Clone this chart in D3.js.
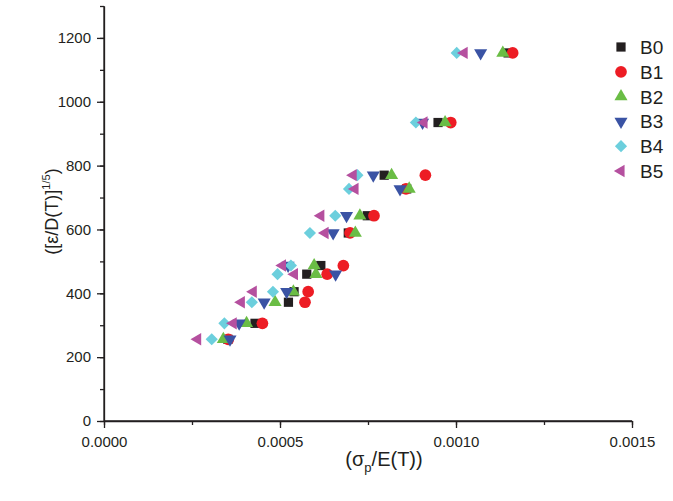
<!DOCTYPE html>
<html>
<head>
<meta charset="utf-8">
<script src="https://cdn.jsdelivr.net/npm/d3@7"></script>
<style>
  body { margin: 0; background: #fff; }
  svg text { font-family: "Liberation Sans", Arial, sans-serif; fill: #231f20; }
  .axis path, .axis line { stroke: #231f20; stroke-width: 1.3; }
</style>
</head>
<body>
<div id="chart"></div>
<script>
// y values shared by every series (one per temperature level)
var yLevels = [1153, 935, 770, 727, 643, 589, 487, 460, 405, 372, 306, 256];

// x values (sigma_p / E(T)) for each series, same order as yLevels
var xB0 = [0.001148, 0.000949, 0.000796, 0.000860, 0.000748, 0.000694, 0.000616, 0.000576, 0.000540, 0.000524, 0.000429, 0.000352];
var xB1 = [0.001161, 0.000985, 0.000913, 0.000858, 0.000767, 0.000699, 0.000680, 0.000634, 0.000580, 0.000571, 0.000450, 0.000353];
var xB2 = [0.001133, 0.000969, 0.000817, 0.000867, 0.000727, 0.000714, 0.000597, 0.000602, 0.000538, 0.000486, 0.000405, 0.000339];
var xB3 = [0.001070, 0.000905, 0.000765, 0.000841, 0.000689, 0.000651, 0.000523, 0.000658, 0.000519, 0.000455, 0.000384, 0.000358];
var xB4 = [0.001002, 0.000886, 0.000720, 0.000696, 0.000657, 0.000585, 0.000531, 0.000493, 0.000480, 0.000420, 0.000342, 0.000306];
var xB5 = [0.001023, 0.000909, 0.000708, 0.000713, 0.000616, 0.000628, 0.000507, 0.000541, 0.000424, 0.000390, 0.000367, 0.000266];

var seriesNames = ["B0", "B1", "B2", "B3", "B4", "B5"];
var seriesX = [xB0, xB1, xB2, xB3, xB4, xB5];
var seriesColors = ["#231f20", "#ed1c24", "#6abd45", "#3a53a4", "#6ccfdd", "#b5509f"];

var xTicks = [0, 0.0005, 0.001, 0.0015];
var yTicks = [0, 200, 400, 600, 800, 1000, 1200];

var margin = {top: 6, right: 41, bottom: 80, left: 104};
var width = 673 - margin.left - margin.right;
var height = 501 - margin.top - margin.bottom;

var svg = d3.select("#chart")
    .append("svg")
    .attr("width", 673)
    .attr("height", 501)
    .append("g")
    .attr("transform", "translate(" + margin.left + "," + margin.top + ")");

var xScale = d3.scaleLinear().domain([0, 0.0015]).range([0, 528]);
var yScale = d3.scaleLinear().domain([0, 1300]).range([height, 0]);

// minor ticks first, then the main axes on top
svg.append("g")
    .attr("class", "axis")
    .attr("transform", "translate(0," + height + ")")
    .call(d3.axisBottom(xScale).tickValues(d3.range(0, 0.0016, 0.00025)).tickSize(4).tickSizeOuter(0).tickFormat(""));

svg.append("g")
    .attr("class", "axis")
    .call(d3.axisLeft(yScale).tickValues(d3.range(0, 1301, 100)).tickSize(4).tickSizeOuter(0).tickFormat(""));

var xAxis = svg.append("g")
    .attr("class", "axis")
    .attr("transform", "translate(0," + height + ")")
    .call(d3.axisBottom(xScale).tickValues(xTicks).tickSize(7).tickSizeOuter(0).tickPadding(8)
        .tickFormat(d3.format(".4f")));
xAxis.selectAll("text").style("font-size", "15px").attr("fill", "#231f20");
xAxis.select(".domain").remove();

var yAxis = svg.append("g")
    .attr("class", "axis")
    .call(d3.axisLeft(yScale).tickValues(yTicks).tickSize(7).tickSizeOuter(0).tickPadding(6)
        .tickFormat(d3.format("d")));
yAxis.selectAll("text").style("font-size", "15px").attr("fill", "#231f20");
yAxis.select(".domain").remove();

// axis lines
svg.append("line").attr("x1", 0).attr("x2", xScale(0.0015)).attr("y1", height).attr("y2", height)
    .attr("stroke", "#231f20").attr("stroke-width", 1.3);
svg.append("line").attr("x1", 0).attr("x2", 0).attr("y1", height).attr("y2", yScale(1300))
    .attr("stroke", "#231f20").attr("stroke-width", 1.3);

// axis titles
var xTitle = svg.append("text")
    .attr("x", 280)
    .attr("y", height + 45)
    .attr("text-anchor", "middle")
    .style("font-size", "20px");
xTitle.append("tspan").text("(σ");
xTitle.append("tspan").attr("dy", 6).style("font-size", "13px").text("p");
xTitle.append("tspan").attr("dy", -6).text("/E(T))");

var yTitle = svg.append("text")
    .attr("transform", "translate(-46," + (height / 2 - 2) + ")rotate(-90)")
    .attr("text-anchor", "middle")
    .style("font-size", "18px");
yTitle.append("tspan").text("([ε/D(T)]");
yTitle.append("tspan").attr("dy", -8).style("font-size", "11px").text("1/5");
yTitle.append("tspan").attr("dy", 8).text(")");

// symbol shapes for each series
var symbols = [
    {type: d3.symbolSquare, size: 85, rot: 0},
    {type: d3.symbolCircle, size: 108, rot: 0},
    {type: d3.symbolTriangle, size: 74, rot: 0},
    {type: d3.symbolTriangle, size: 74, rot: 180},
    {type: d3.symbolSquare, size: 74, rot: 45},
    {type: d3.symbolTriangle, size: 66, rot: -90}
];

for (var s = 0; s < seriesNames.length; s++) {
    var pts = seriesX[s].map(function (x, i) { return {x: x, y: yLevels[i]}; });
    var sym = symbols[s];
    svg.selectAll(".pt" + s)
        .data(pts)
        .enter()
        .append("path")
        .attr("class", "pt" + s)
        .attr("d", d3.symbol().type(sym.type).size(sym.size))
        .attr("fill", seriesColors[s])
        .attr("transform", function (d) {
            return "translate(" + xScale(d.x) + "," + yScale(d.y) + ")rotate(" + sym.rot + ")";
        });
}

// legend
var legend = svg.append("g").attr("transform", "translate(517,41)");
seriesNames.forEach(function (name, i) {
    var row = legend.append("g").attr("transform", "translate(0," + (i * 24.8) + ")");
    row.append("path")
        .attr("d", d3.symbol().type(symbols[i].type).size(symbols[i].size))
        .attr("fill", seriesColors[i])
        .attr("transform", "rotate(" + symbols[i].rot + ")");
    row.append("text")
        .attr("x", 19)
        .attr("y", 7)
        .style("font-size", "19px")
        .text(name);
});
</script>
</body>
</html>
